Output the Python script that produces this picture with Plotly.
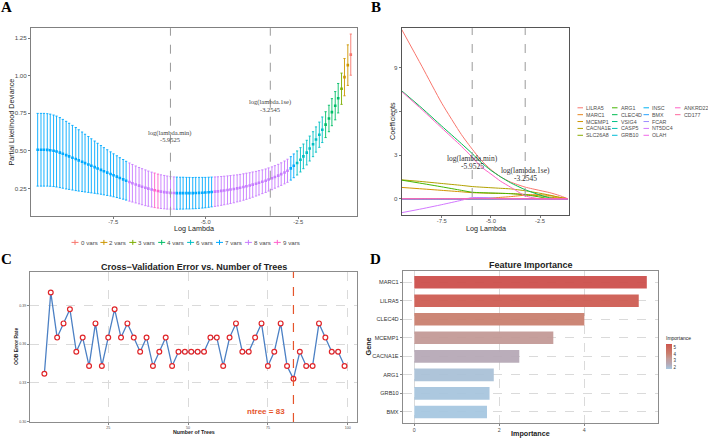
import math
import plotly.graph_objects as go

W, H = 708, 440

# ---------------- Panel A data (cv.glmnet curve) ----------------
a_log_lambda = [-9.54, -9.45, -9.37, -9.28, -9.20, -9.11, -9.03, -8.94, -8.86, -8.77,
                -8.69, -8.60, -8.51, -8.43, -8.34, -8.26, -8.17, -8.09, -8.00, -7.92,
                -7.83, -7.75, -7.66, -7.57, -7.49, -7.40, -7.32, -7.23, -7.15, -7.06,
                -6.98, -6.89, -6.80, -6.72, -6.63, -6.55, -6.46, -6.38, -6.29, -6.21,
                -6.12, -6.04, -5.95, -5.86, -5.78, -5.69, -5.61, -5.52, -5.44, -5.35,
                -5.27, -5.18, -5.09, -5.01, -4.92, -4.84, -4.75, -4.67, -4.58, -4.50,
                -4.41, -4.33, -4.24, -4.15, -4.07, -3.98, -3.90, -3.81, -3.73, -3.64,
                -3.56, -3.47, -3.38, -3.30, -3.21, -3.13, -3.04, -2.96, -2.87, -2.79,
                -2.70, -2.62, -2.53, -2.44, -2.36, -2.27, -2.19, -2.10, -2.02, -1.93,
                -1.85, -1.76, -1.67, -1.59, -1.50, -1.42, -1.33, -1.25, -1.16, -1.08]
a_deviance = [0.507, 0.507, 0.507, 0.506, 0.504, 0.500, 0.495, 0.488, 0.480, 0.471,
              0.463, 0.454, 0.445, 0.436, 0.427, 0.418, 0.409, 0.400, 0.391, 0.382,
              0.373, 0.364, 0.355, 0.346, 0.337, 0.328, 0.319, 0.310, 0.301, 0.292,
              0.284, 0.276, 0.268, 0.261, 0.254, 0.248, 0.242, 0.237, 0.232, 0.228,
              0.225, 0.222, 0.220, 0.219, 0.218, 0.218, 0.218, 0.218, 0.218, 0.218,
              0.219, 0.220, 0.221, 0.222, 0.224, 0.226, 0.228, 0.230, 0.233, 0.236,
              0.239, 0.242, 0.246, 0.250, 0.254, 0.259, 0.264, 0.269, 0.275, 0.281,
              0.287, 0.294, 0.301, 0.309, 0.317, 0.326, 0.335, 0.345, 0.356, 0.367,
              0.383, 0.400, 0.419, 0.440, 0.463, 0.488, 0.515, 0.544, 0.575, 0.607,
              0.640, 0.674, 0.715, 0.757, 0.800, 0.850, 0.913, 0.990, 1.070, 1.140]
a_se = [0.242, 0.242, 0.242, 0.241, 0.240, 0.238, 0.236, 0.233, 0.229, 0.225,
        0.220, 0.215, 0.210, 0.204, 0.198, 0.192, 0.186, 0.180, 0.174, 0.168,
        0.162, 0.157, 0.152, 0.147, 0.143, 0.139, 0.135, 0.132, 0.129, 0.127,
        0.125, 0.123, 0.121, 0.120, 0.119, 0.117, 0.116, 0.115, 0.113, 0.112,
        0.111, 0.110, 0.108, 0.107, 0.107, 0.106, 0.106, 0.105, 0.105, 0.104,
        0.104, 0.103, 0.102, 0.101, 0.100, 0.099, 0.098, 0.097, 0.096, 0.095,
        0.094, 0.093, 0.092, 0.090, 0.089, 0.088, 0.087, 0.085, 0.084, 0.082,
        0.081, 0.079, 0.078, 0.077, 0.076, 0.075, 0.075, 0.075, 0.076, 0.077,
        0.078, 0.079, 0.080, 0.081, 0.082, 0.082, 0.083, 0.083, 0.084, 0.084,
        0.085, 0.086, 0.088, 0.090, 0.094, 0.098, 0.104, 0.124, 0.135, 0.137]
a_nvars = [7]*29 + [8]*8 + [9]*2 + [8]*5 + [7]*12 + [8]*24 + [7]*2 + [6]*9 + [4]*5 + [3]*1 + [2]*2 + [0]*1
a_groups = [0, 2, 3, 4, 6, 7, 8, 9]
lambda_min, lambda_1se = -5.9525, -3.2545

# ---------------- Panel B data (coefficient paths) ----------------
b_log_lambda = [-9.54, -8.5, -7.5, -6.5, -5.95, -5.5, -5.0, -4.5, -4.0, -3.25, -2.5, -2.0, -1.5, -1.08]
b_genes = ["LILRA5", "MARC1", "MCEMP1", "CACNA1E", "SLC26A8", "ARG1", "CLEC4D", "VSIG4",
           "CASP5", "GRB10", "INSC", "BMX", "FCAR", "NT5DC4", "OLAH", "ANKRD22", "CD177"]
b_coefs = {
    "LILRA5":  [11.6, 9.05, 6.55, 4.4, 3.4, 2.65, 2.0, 1.5, 1.15, 0.8, 0.57, 0.42, 0.22, 0.0],
    "MARC1":   [0, 0, 0, 0, 0, 0.02, 0.05, 0.1, 0.15, 0.25, 0.28, 0.22, 0.1, 0],
    "MCEMP1":  [0.78, 0.68, 0.58, 0.48, 0.42, 0.40, 0.38, 0.37, 0.36, 0.30, 0.20, 0.12, 0.05, 0],
    "CACNA1E": [1.3, 1.18, 1.05, 0.92, 0.84, 0.80, 0.76, 0.72, 0.68, 0.55, 0.38, 0.25, 0.1, 0],
    "SLC26A8": [0]*14,
    "ARG1":    [1.28, 1.05, 0.82, 0.58, 0.45, 0.42, 0.40, 0.38, 0.35, 0.28, 0.12, 0.0, 0, 0],
    "CLEC4D":  [7.4, 6.2, 4.98, 3.78, 3.1, 2.5, 1.95, 1.5, 1.1, 0.62, 0.26, 0.06, 0, 0],
    "VSIG4":   [0]*14,
    "CASP5":   [0]*14,
    "GRB10":   [0]*14,
    "INSC":    [0]*14,
    "BMX":     [0]*14,
    "FCAR":    [0, 0, 0, 0, 0.05, 0.08, 0.06, 0.02, 0, 0, 0, 0, 0, 0],
    "NT5DC4":  [-0.95, -0.68, -0.4, -0.1, 0.08, 0.08, 0.03, 0, 0, 0, 0, 0, 0, 0],
    "OLAH":    [0]*14,
    "ANKRD22": [7.35, 6.1, 4.85, 3.6, 2.85, 2.2, 1.7, 1.2, 0.8, 0.2, 0, 0, 0, 0],
    "CD177":   [0]*14,
}

# ---------------- Panel C data (OOB error) ----------------
c_trees = [5, 7, 9, 11, 13, 15, 17, 19, 21, 23, 25, 27, 29, 31, 33, 35, 37, 39, 41, 43,
           45, 47, 49, 51, 53, 55, 57, 59, 61, 63, 65, 67, 69, 71, 73, 75, 77, 79, 81, 83,
           85, 87, 89, 91, 93, 95, 97, 99]
c_oob = [0.337, 0.400, 0.365, 0.376, 0.387, 0.354, 0.365, 0.343, 0.376, 0.343,
         0.365, 0.387, 0.365, 0.376, 0.365, 0.354, 0.365, 0.343, 0.354, 0.365,
         0.343, 0.354, 0.354, 0.354, 0.354, 0.354, 0.365, 0.365, 0.343, 0.365,
         0.376, 0.354, 0.354, 0.365, 0.376, 0.343, 0.354, 0.376, 0.343, 0.333,
         0.354, 0.343, 0.343, 0.376, 0.365, 0.354, 0.354, 0.343]
c_best = 83
c_yticks = [0.30, 0.33, 0.36, 0.39]
c_xticks = [25, 50, 75, 100]

# ---------------- Panel D data (feature importance) ----------------
d_genes = ["MARC1", "LILRA5", "CLEC4D", "MCEMP1", "CACNA1E", "ARG1", "GRB10", "BMX"]
d_importance = [5.47, 5.28, 4.00, 3.27, 2.47, 1.87, 1.77, 1.71]


def hcl_hex(h, c=100.0, l=65.0):
    hr = math.radians(h)
    u, v = c * math.cos(hr), c * math.sin(hr)
    Xn, Yn, Zn = 95.047, 100.0, 108.883
    Y = Yn * ((l + 16) / 116) ** 3
    den = Xn + 15 * Yn + 3 * Zn
    un, vn = 4 * Xn / den, 9 * Yn / den
    up, vp = u / (13 * l) + un, v / (13 * l) + vn
    X = Y * 9 * up / (4 * vp)
    Z = Y * (12 - 3 * up - 20 * vp) / (4 * vp)
    X, Y, Z = X / 100, Y / 100, Z / 100
    rgb = [3.240479 * X - 1.537150 * Y - 0.498535 * Z,
           -0.969256 * X + 1.875992 * Y + 0.041556 * Z,
           0.055648 * X - 0.204043 * Y + 1.057311 * Z]
    out = []
    for ch in rgb:
        ch = 12.92 * ch if ch <= 0.0031308 else 1.055 * ch ** (1 / 2.4) - 0.055
        out.append(int(round(max(0, min(1, ch)) * 255)))
    return "#%02X%02X%02X" % tuple(out)


def hue_pal(n):
    return [hcl_hex(15 + 360 * i / n) for i in range(n)]


def px(x):
    return x / W


def py(y):
    return 1 - y / H


SANS = "Liberation Sans"
SERIF = "Liberation Serif"
TICK = "#4D4D4D"

fig = go.Figure()
annotations = []
shapes = []


def note(x, y, text, size, color="#222", family=SANS, xref="paper", yref="paper",
         xanchor="center", angle=0):
    if xref == "paper":
        x = px(x)
    if yref == "paper":
        y = py(y)
    annotations.append(dict(x=x, y=y, xref=xref, yref=yref, text=text, showarrow=False,
                            xanchor=xanchor, yanchor="middle", textangle=angle,
                            font=dict(family=family, size=size, color=color),
                            borderpad=0, borderwidth=0))


# ---------------- Panel A ----------------
a_cols = hue_pal(len(a_groups))
for g, col in zip(a_groups, a_cols):
    idx = [i for i, n in enumerate(a_nvars) if n == g]
    fig.add_trace(go.Scatter(
        x=[a_log_lambda[i] for i in idx], y=[a_deviance[i] for i in idx],
        mode="markers", marker=dict(size=2.6, color=col, symbol="square"),
        error_y=dict(type="data", array=[a_se[i] for i in idx], color=col, thickness=0.9, width=1.1),
        xaxis="x", yaxis="y", showlegend=False, hoverinfo="skip"))
for xv in (lambda_min, lambda_1se):
    shapes.append(dict(type="line", xref="x", yref="paper", x0=xv, x1=xv,
                       y0=py(216.7), y1=py(28.3), line=dict(color="#9A9A9A", width=1, dash="dash")))
note(lambda_min, 0.62, "log(lambda.min)", 6.5, "#444", SERIF, xref="x", yref="y")
note(lambda_min, 0.572, "%.4f" % lambda_min, 6.5, "#444", SERIF, xref="x", yref="y")
note(lambda_1se, 0.824, "log(lambda.1se)", 6.5, "#444", SERIF, xref="x", yref="y")
note(lambda_1se, 0.776, "%.4f" % lambda_1se, 6.5, "#444", SERIF, xref="x", yref="y")
note(193.8, 230.0, "Log Lambda", 7.2)
note(11.5, 122.5, "Partial Likelihood Deviance", 7.2, angle=-90)
# manual legend for A
for i, (g, col) in enumerate(zip(a_groups, a_cols)):
    kx, ky = 75 + i * 28.9, 243.5
    shapes.append(dict(type="line", xref="paper", yref="paper", x0=px(kx - 3.5), x1=px(kx + 3.5),
                       y0=py(ky), y1=py(ky), line=dict(color=col, width=1)))
    shapes.append(dict(type="line", xref="paper", yref="paper", x0=px(kx), x1=px(kx),
                       y0=py(ky - 2.5), y1=py(ky + 2.5), line=dict(color=col, width=1)))
    note(kx + 5.5, ky, "%d vars" % g, 6.2, TICK, xanchor="left")

# ---------------- Panel B ----------------
b_cols = hue_pal(len(b_genes))
for gname, col in zip(b_genes, b_cols):
    fig.add_trace(go.Scatter(x=b_log_lambda, y=b_coefs[gname], mode="lines",
                             line=dict(color=col, width=1, shape="spline", smoothing=0.6),
                             xaxis="x2", yaxis="y2", showlegend=False, hoverinfo="skip"))
for xv in (lambda_min, lambda_1se):
    shapes.append(dict(type="line", xref="x2", yref="paper", x0=xv, x1=xv,
                       y0=py(216), y1=py(28.3), line=dict(color="#9A9A9A", width=1, dash="dash")))
note(lambda_min, 2.75, "log(lambda.min)", 7.5, "#333", SERIF, xref="x2", yref="y2")
note(lambda_min, 2.2, "%.4f" % lambda_min, 7.5, "#333", SERIF, xref="x2", yref="y2")
note(lambda_1se, 1.96, "log(lambda.1se)", 7.5, "#333", SERIF, xref="x2", yref="y2")
note(lambda_1se, 1.41, "%.4f" % lambda_1se, 7.5, "#333", SERIF, xref="x2", yref="y2")
note(485.5, 229.5, "Log Lambda", 7.2)
note(392.5, 122, "Coefficients", 7.2, angle=-90)
# manual legend for B (4 columns, column-major)
col_key_x = [577.5, 612.0, 643.5, 675.0]
for i, (gname, col) in enumerate(zip(b_genes, b_cols)):
    c, r = i // 5, i % 5
    kx, ky = col_key_x[c], 108.3 + r * 6.9
    shapes.append(dict(type="line", xref="paper", yref="paper", x0=px(kx), x1=px(kx + 5.5),
                       y0=py(ky), y1=py(ky), line=dict(color=col, width=1)))
    note(kx + 8.5, ky, gname, 5.3, TICK, xanchor="left")

# ---------------- Panel C ----------------
fig.add_trace(go.Scatter(x=c_trees, y=c_oob, mode="lines+markers",
                         line=dict(color="#4C80C4", width=1.3),
                         marker=dict(symbol="circle", size=4.8, color="white",
                                     line=dict(color="#E0262A", width=1.2)),
                         xaxis="x3", yaxis="y3", showlegend=False, hoverinfo="skip"))
shapes.append(dict(type="line", xref="x3", yref="paper", x0=c_best, x1=c_best,
                   y0=py(424), y1=py(273.3), line=dict(color="#E5542B", width=1.2, dash="dash")))
note(74.4, 0.3077, "<b>ntree = %d</b>" % c_best, 8, "#E5542B", xref="x3", yref="y3")
note(193.7, 268.3, "<b>Cross\u2212Validation Error vs. Number of Trees</b>", 9)
note(193.7, 433.5, "<b>Number of Trees</b>", 5.3)
note(16, 348.5, "<b>OOB Error Rate</b>", 5, angle=-90)

# ---------------- Panel D ----------------
d_scale = [[0.0, "#A7C7E0"], [0.2, "#B6A9B6"], [0.42, "#C39A96"], [0.61, "#C9806F"],
           [0.95, "#CD5D53"], [1.0, "#CC4F4C"]]
fig.add_trace(go.Bar(x=d_importance, y=d_genes, orientation="h", width=0.68,
                     marker=dict(color=d_importance, colorscale=d_scale,
                                 cmin=min(d_importance), cmax=max(d_importance), opacity=0.95,
                                 line=dict(width=0),
                                 colorbar=dict(thickness=6, len=35.7 / H, lenmode="fraction",
                                               x=px(666), xanchor="left", y=py(352.9), yanchor="middle",
                                               xpad=0, ypad=0, outlinewidth=0,
                                               tickvals=[2, 3, 4, 5], ticks="",
                                               tickfont=dict(family=SANS, size=4.5, color="#333"),
                                               title=dict(text="Importance", side="top",
                                                          font=dict(family=SANS, size=5, color="#222")))),
                     xaxis="x4", yaxis="y4", showlegend=False, hoverinfo="skip"))
note(530.5, 266.7, "<b>Feature Importance</b>", 9)
note(530.5, 435.5, "<b>Importance</b>", 7.2)
note(368.5, 348.5, "<b>Gene</b>", 7.2, angle=-90)

# panel letters
for letter, x, y in [("A", 6.8, 7.5), ("B", 376.2, 7.2), ("C", 6.8, 260), ("D", 375.8, 260)]:
    note(x, y, "<b>%s</b>" % letter, 15, "#000", SERIF)

frame = dict(showline=True, mirror=True, linewidth=1, zeroline=False, showgrid=False,
             ticks="outside", ticklen=2, tickcolor="#777")
gridded = dict(showline=True, mirror=True, linewidth=1, zeroline=False, ticks="outside", ticklen=2,
               tickcolor="#888", showgrid=True, gridcolor="#DADADA", griddash="dash", gridwidth=0.8,
               linecolor="#8C8C8C")

fig.update_layout(
    width=W, height=H, autosize=False, margin=dict(l=0, r=0, t=0, b=0),
    paper_bgcolor="white", plot_bgcolor="white", showlegend=False,
    xaxis=dict(domain=[px(31), px(356.7)], range=[-9.72, -0.92], anchor="y",
               tickvals=[-7.5, -5.0, -2.5], ticktext=["-7.5", "-5.0", "-2.5"], ticklabelstandoff=-2,
               tickfont=dict(family=SANS, size=5.8, color=TICK), linecolor="#808080", **frame),
    yaxis=dict(domain=[py(216.7), py(28.3)], range=[0.068, 1.316], anchor="x",
               tickvals=[0.25, 0.5, 0.75, 1.0, 1.25], ticktext=["0.25", "0.50", "0.75", "1.00", "1.25"],
               tickfont=dict(family=SANS, size=6.2, color=TICK), linecolor="#808080", **frame),
    xaxis2=dict(domain=[px(401.7), px(569.3)], range=[-9.54, -1.01], anchor="y2",
                tickvals=[-7.5, -5.0, -2.5], ticktext=["-7.5", "-5.0", "-2.5"], ticklabelstandoff=-2,
                tickfont=dict(family=SANS, size=5.8, color=TICK), linecolor="#555", **frame),
    yaxis2=dict(domain=[py(216), py(28.3)], range=[-1.11, 11.69], anchor="x2",
                tickvals=[0, 3, 6, 9], ticktext=["0", "3", "6", "9"],
                tickfont=dict(family=SANS, size=6.2, color=TICK), linecolor="#555", **frame),
    xaxis3=dict(domain=[px(30), px(357.3)], range=[0.5, 103], anchor="y3",
                tickvals=c_xticks, ticktext=[str(v) for v in c_xticks],
                tickfont=dict(family=SANS, size=3.6, color=TICK), **gridded),
    yaxis3=dict(domain=[py(424), py(273.3)], range=[0.2995, 0.4158], anchor="x3",
                tickvals=c_yticks, ticktext=["%.2f" % v for v in c_yticks],
                tickfont=dict(family=SANS, size=3.6, color=TICK), **gridded),
    xaxis4=dict(domain=[px(402.7), px(658.3)], range=[-0.273, 5.74], anchor="y4",
                tickvals=[0, 2, 4], ticktext=["0", "2", "4"],
                tickfont=dict(family=SANS, size=5.3, color=TICK), **gridded),
    yaxis4=dict(domain=[py(425), py(272.3)], range=[7.6, -0.6], anchor="x4",
                type="category", categoryorder="array", categoryarray=d_genes,
                tickfont=dict(family=SANS, size=5.6, color="#333"), **gridded),
    annotations=annotations, shapes=shapes,
)

fig.write_html("out.html")
